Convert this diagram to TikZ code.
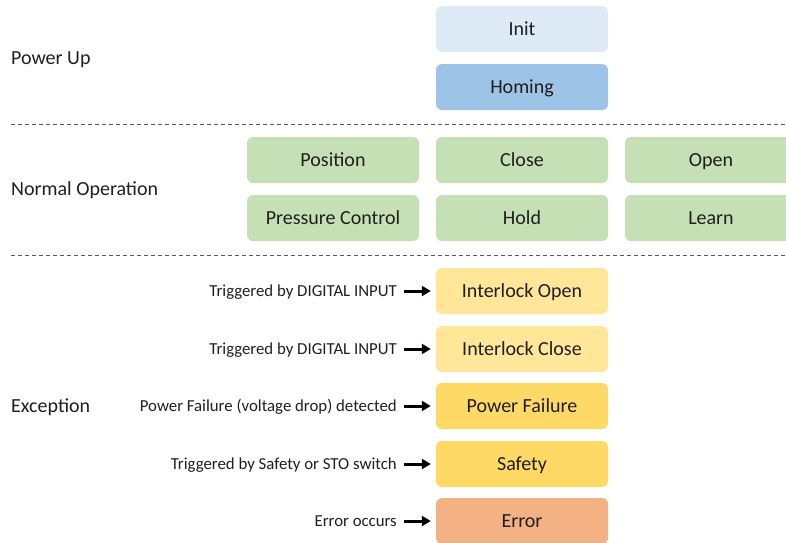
\documentclass[tikz,border=0pt]{standalone}
\usepackage{fontspec}
\setmainfont{Carlito}
\usetikzlibrary{arrows.meta}
\definecolor{initc}{HTML}{DEEBF7}
\definecolor{homec}{HTML}{9DC3E6}
\definecolor{greenc}{HTML}{C5E0B4}
\definecolor{ylwl}{HTML}{FFE699}
\definecolor{ylwd}{HTML}{FFD966}
\definecolor{errc}{HTML}{F4B183}
\definecolor{txtc}{HTML}{1F1F1F}
\definecolor{dashc}{HTML}{595959}
\tikzset{
  statebox/.style={rounded corners=6pt, minimum width=172pt, minimum height=46pt, inner sep=0pt, text=txtc, font=\fontsize{20}{23}\selectfont, text height=16pt, text depth=4pt},
  seclabel/.style={anchor=west, inner sep=0pt, text=txtc, font=\fontsize{20}{23}\selectfont, text height=16pt, text depth=4pt},
  triglabel/.style={anchor=east, inner sep=0pt, text=txtc, font=\fontsize{16.8}{19}\selectfont, text height=13pt, text depth=2pt},
  trigarrow/.style={line width=3pt, -{Triangle[length=9pt,width=10pt]}, shorten <=7pt, shorten >=5pt},
  sepline/.style={dashc, line width=0.9pt, dash pattern=on 4pt off 3pt}
}
\begin{document}
\begin{tikzpicture}[x=1pt,y=-1pt]
\useasboundingbox (0,0) rectangle (786,542);
% Power Up
\node[seclabel] (pu) at (11,58) {Power Up};
\node[statebox, fill=initc] (init) at (522,29) {Init};
\node[statebox, fill=homec] (homing) at (522,87) {Homing};
\coordinate (d1a) at (11,124);
\coordinate (d1b) at (786,124);
\draw[sepline] (d1a) -- (d1b);
% Normal Operation
\node[seclabel] (no) at (11,189) {Normal Operation};
\node[statebox, fill=greenc] (position) at (333,160) {Position};
\node[statebox, fill=greenc] (close) at (522,160) {Close};
\node[statebox, fill=greenc] (open) at (711,160) {Open};
\node[statebox, fill=greenc] (pressure) at (333,218) {Pressure Control};
\node[statebox, fill=greenc] (hold) at (522,218) {Hold};
\node[statebox, fill=greenc] (learn) at (711,218) {Learn};
\coordinate (d2a) at (11,255);
\coordinate (d2b) at (786,255);
\draw[sepline] (d2a) -- (d2b);
% Exception
\node[seclabel] (ex) at (11,406) {Exception};
\node[statebox, fill=ylwl] (iopen) at (522,291) {Interlock Open};
\node[statebox, fill=ylwl] (iclose) at (522,349) {Interlock Close};
\node[statebox, fill=ylwd] (pfail) at (522,406) {Power Failure};
\node[statebox, fill=ylwd] (safety) at (522,464) {Safety};
\node[statebox, fill=errc] (error) at (522,521) {Error};
\node[triglabel] (t1) at (397,291) {Triggered by DIGITAL INPUT};
\node[triglabel] (t2) at (397,349) {Triggered by DIGITAL INPUT};
\node[triglabel] (t3) at (397,406) {Power Failure (voltage drop) detected};
\node[triglabel] (t4) at (397,464) {Triggered by Safety or STO switch};
\node[triglabel] (t5) at (397,521) {Error occurs};
\draw[trigarrow] (t1.east) -- (iopen.west);
\draw[trigarrow] (t2.east) -- (iclose.west);
\draw[trigarrow] (t3.east) -- (pfail.west);
\draw[trigarrow] (t4.east) -- (safety.west);
\draw[trigarrow] (t5.east) -- (error.west);
\end{tikzpicture}
\end{document}
